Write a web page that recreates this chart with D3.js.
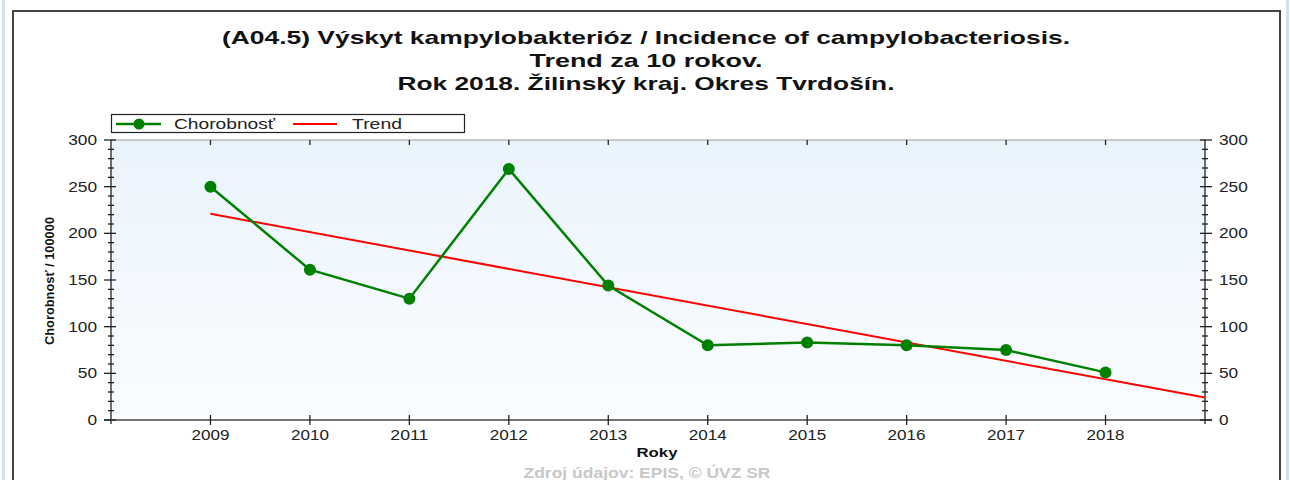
<!DOCTYPE html>
<html><head><meta charset="utf-8">
<script src="https://cdn.jsdelivr.net/npm/d3@7/dist/d3.min.js"></script>
<style>html,body{margin:0;padding:0;background:#fff;}svg{display:block;}</style>
</head><body>
<svg id="c" width="1290" height="480"></svg>
<script>
const years = [2009, 2010, 2011, 2012, 2013, 2014, 2015, 2016, 2017, 2018];
const chorobnost = [250, 161, 130, 269, 144, 80, 83, 80, 75, 51];
const trendYears = [2009, 2019];
const trendValues = [221, 24];
const yTicks = [0, 50, 100, 150, 200, 250, 300];
const titleLines = ["(A04.5) Výskyt kampylobakterióz / Incidence of campylobacteriosis.", "Trend za 10 rokov.", "Rok 2018. Žilinský kraj. Okres Tvrdošín."];
const legendLabels = ["Chorobnosť", "Trend"];

const svg = d3.select("#c");
const F = "'Liberation Sans', Arial, sans-serif";
const L = 111, R = 1205, T = 140, B = 420;
const x = d3.scaleLinear().domain([2008, 2019]).range([L, R]);
const y = d3.scaleLinear().domain([0, 300]).range([B, T]);

function fit(sel, w) { return sel.attr("textLength", w).attr("lengthAdjust", "spacingAndGlyphs"); }

// side stripes & frame
svg.append("rect").attr("x", 2).attr("y", 0).attr("width", 3).attr("height", 480).attr("fill", "#d6e0ea");
svg.append("rect").attr("x", 1286).attr("y", 0).attr("width", 3).attr("height", 480).attr("fill", "#d6e0ea");
svg.append("path").attr("d", `M13,480V11H1280V480`).attr("fill", "none").attr("stroke", "#444").attr("stroke-width", 2);

// titles
const titleW = [848, 233, 497];
titleLines.forEach((t, i) => {
  fit(svg.append("text").attr("x", 646).attr("y", 44 + i * 23).attr("text-anchor", "middle")
    .attr("font-family", F).attr("font-weight", "bold").attr("font-size", 18.5).attr("fill", "#111").text(t), titleW[i]);
});

// plot background
const grad = svg.append("defs").append("linearGradient").attr("id", "bg").attr("x1", 0).attr("y1", 0).attr("x2", 0).attr("y2", 1);
grad.append("stop").attr("offset", "0%").attr("stop-color", "#eaf4fd");
grad.append("stop").attr("offset", "100%").attr("stop-color", "#fbfdff");
svg.append("rect").attr("x", L).attr("y", T).attr("width", R - L).attr("height", B - T).attr("fill", "url(#bg)");
svg.append("line").attr("x1", L).attr("x2", R).attr("y1", T).attr("y2", T).attr("stroke", "#999").attr("stroke-width", 1);

// axes
const axG = svg.append("g").attr("stroke", "#222").attr("stroke-width", 1.3);
axG.append("line").attr("x1", L).attr("x2", L).attr("y1", T).attr("y2", B + 4);
axG.append("line").attr("x1", R).attr("x2", R).attr("y1", T).attr("y2", B + 4);
axG.append("line").attr("x1", L - 7).attr("x2", R + 7).attr("y1", B).attr("y2", B).attr("stroke", "#444");
const minor = d3.range(0, 301, 10);
minor.forEach(v => {
  const major = v % 50 === 0;
  axG.append("line").attr("x1", L - (major ? 7 : 3)).attr("x2", L + (major ? 5 : 3)).attr("y1", y(v)).attr("y2", y(v));
  axG.append("line").attr("x1", R - (major ? 5 : 3)).attr("x2", R + (major ? 7 : 3)).attr("y1", y(v)).attr("y2", y(v));
});
years.forEach(yr => {
  axG.append("line").attr("x1", x(yr)).attr("x2", x(yr)).attr("y1", B - 5).attr("y2", B + 5);
  axG.append("line").attr("x1", x(yr)).attr("x2", x(yr)).attr("y1", T).attr("y2", T + 5);
});

// tick labels
const dw = 9.6;
yTicks.forEach(v => {
  const n = String(v).length;
  fit(svg.append("text").attr("x", 97).attr("y", y(v) + 5).attr("text-anchor", "end")
    .attr("font-family", F).attr("font-size", 14).attr("fill", "#222").text(v), n * dw);
  fit(svg.append("text").attr("x", 1219).attr("y", y(v) + 5).attr("text-anchor", "start")
    .attr("font-family", F).attr("font-size", 14).attr("fill", "#222").text(v), n * dw);
});
years.forEach(yr => {
  fit(svg.append("text").attr("x", x(yr)).attr("y", 440).attr("text-anchor", "middle")
    .attr("font-family", F).attr("font-size", 14).attr("fill", "#222").text(yr), 38);
});
fit(svg.append("text").attr("x", 657).attr("y", 457).attr("text-anchor", "middle")
  .attr("font-family", F).attr("font-weight", "bold").attr("font-size", 13.5).attr("fill", "#111").text("Roky"), 41);
fit(svg.append("text").attr("transform", `translate(54,281) rotate(-90)`).attr("text-anchor", "middle")
  .attr("font-family", F).attr("font-weight", "bold").attr("font-size", 12.5).attr("fill", "#111").text("Chorobnosť / 100000"), 128);
fit(svg.append("text").attr("x", 647).attr("y", 478).attr("text-anchor", "middle")
  .attr("font-family", F).attr("font-weight", "bold").attr("font-size", 14).attr("fill", "#c8c8c8").text("Zdroj údajov: EPIS, © ÚVZ SR"), 247);

// trend
svg.append("path").datum(trendYears.map((t, i) => [t, trendValues[i]]))
  .attr("d", d3.line().x(d => x(d[0])).y(d => y(d[1])))
  .attr("fill", "none").attr("stroke", "#ff0000").attr("stroke-width", 2);

// series
const pts = years.map((yr, i) => [yr, chorobnost[i]]);
svg.append("path").datum(pts).attr("d", d3.line().x(d => x(d[0])).y(d => y(d[1])))
  .attr("fill", "none").attr("stroke", "#008000").attr("stroke-width", 2.5);
svg.selectAll("circle.pt").data(pts).enter().append("circle").attr("class", "pt")
  .attr("cx", d => x(d[0])).attr("cy", d => y(d[1])).attr("r", 6).attr("fill", "#008000");

// legend
const lg = svg.append("g");
lg.append("rect").attr("x", 111.5).attr("y", 114.5).attr("width", 353).attr("height", 18).attr("fill", "#fff").attr("stroke", "#222").attr("stroke-width", 1.2);
lg.append("line").attr("x1", 116).attr("x2", 161).attr("y1", 124).attr("y2", 124).attr("stroke", "#008000").attr("stroke-width", 2.5);
lg.append("circle").attr("cx", 139).attr("cy", 124).attr("r", 5.5).attr("fill", "#008000");
fit(lg.append("text").attr("x", 174).attr("y", 129).attr("font-family", F).attr("font-size", 15).attr("fill", "#222").text(legendLabels[0]), 101);
lg.append("line").attr("x1", 293).attr("x2", 337).attr("y1", 124).attr("y2", 124).attr("stroke", "#ff0000").attr("stroke-width", 2);
fit(lg.append("text").attr("x", 352).attr("y", 129).attr("font-family", F).attr("font-size", 15).attr("fill", "#222").text(legendLabels[1]), 50);
</script>
</body></html>
